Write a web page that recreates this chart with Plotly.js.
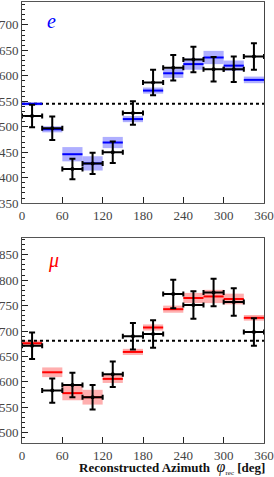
<!DOCTYPE html>
<html>
<head>
<meta charset="utf-8">
<script src="https://cdn.plot.ly/plotly-3.0.1.min.js"></script>
<style>html,body{margin:0;padding:0;background:#fff;}#chart{width:274px;height:477px;}</style>
</head>
<body>
<div id="chart"></div>
<script>
// Bin centres (deg)
const binCenters = [15, 45, 75, 105, 135, 165, 195, 225, 255, 285, 315, 345];
const binHalfWidth = [15, 15, 15, 15, 15, 15, 15, 15, 15, 15, 15, 15];

// Electron panel
const eData    = [521, 497, 417, 428, 450, 527, 587, 616, 632, 613, 613, 638];
const eDataErr = [22, 23, 20, 21, 21, 23, 25, 25, 25, 24, 25, 26];
const eMC      = [545, 495, 446, 428, 469, 515, 571, 605, 623, 636, 620, 592];
const eMCErr   = [3, 6, 14, 14, 11, 6, 6, 9, 11, 13, 10, 6.5];
const eMean    = 545;

// Muon panel
const mData    = [671, 583, 594, 570, 615, 690, 694, 773, 751, 776, 757, 698];
const mDataErr = [26, 24, 24, 24, 25, 26, 27, 28, 27, 27, 27, 27];
const mMC      = [676, 619, 578, 570, 606, 659, 707, 743, 765, 768, 763, 726];
const mMCErr   = [5.5, 9.5, 14, 14.5, 8, 6, 6, 7, 10, 13, 10.5, 5.5];
const mMean    = 681;

const xTicks = [0, 60, 120, 180, 240, 300, 360];

function bandTrace(mc, err, color, xa, ya) {
  return {
    type: 'bar', x: binCenters, y: err.map(e => 2 * e), base: mc.map((m, i) => m - err[i]),
    width: 30, marker: {color: color, line: {width: 0}}, xaxis: xa, yaxis: ya,
    hoverinfo: 'skip', showlegend: false
  };
}
function mcLine(mc, color, xa, ya) {
  return {
    type: 'scatter', mode: 'markers', x: binCenters, y: mc,
    marker: {size: 1, color: color, opacity: 0},
    error_x: {type: 'data', array: binHalfWidth, width: 0, thickness: 2, color: color},
    xaxis: xa, yaxis: ya, showlegend: false
  };
}
function dataTrace(d, err, xa, ya) {
  return {
    type: 'scatter', mode: 'markers', x: binCenters, y: d,
    marker: {size: 4, color: '#000'},
    error_x: {type: 'data', array: binHalfWidth, width: 2.5, thickness: 2, color: '#000'},
    error_y: {type: 'data', array: err, width: 3, thickness: 2, color: '#000'},
    xaxis: xa, yaxis: ya, showlegend: false
  };
}
function meanLine(v, xa, ya) {
  return {
    type: 'scatter', mode: 'lines', x: [0, 360], y: [v, v],
    line: {color: '#000', width: 2, dash: '3px,3px'}, xaxis: xa, yaxis: ya, showlegend: false
  };
}

const traces = [
  meanLine(eMean, 'x', 'y'),
  bandTrace(eMC, eMCErr, 'rgba(110,110,255,0.55)', 'x', 'y'),
  mcLine(eMC, '#0000ff', 'x', 'y'),
  dataTrace(eData, eDataErr, 'x', 'y'),
  meanLine(mMean, 'x2', 'y2'),
  bandTrace(mMC, mMCErr, 'rgba(255,110,110,0.55)', 'x2', 'y2'),
  mcLine(mMC, '#ff0000', 'x2', 'y2'),
  dataTrace(mData, mDataErr, 'x2', 'y2')
];

const serif = 'Liberation Serif, Times New Roman, serif';
const tickFont = {family: serif, size: 13, color: '#444'};
const xCommon = {
  range: [0, 360], tickvals: xTicks, ticks: 'inside', ticklen: 6, tickwidth: 1, tickcolor: '#222',
  showgrid: false, zeroline: false, showline: true, linecolor: '#555', linewidth: 1, mirror: true,
  tickfont: tickFont, automargin: false
};
const yCommon = {
  ticks: 'inside', ticklen: 6, tickwidth: 1, tickcolor: '#222', dtick: 50,
  minor: {dtick: 10, ticks: 'inside', ticklen: 3, tickcolor: '#222'},
  showgrid: false, zeroline: false, showline: true, linecolor: '#444', linewidth: 1, mirror: true,
  tickfont: tickFont, automargin: false
};

const layout = {
  width: 274, height: 477,
  margin: {l: 22, r: 10, t: 2, b: 34},
  paper_bgcolor: '#fff', plot_bgcolor: '#fff',
  barmode: 'overlay', showlegend: false,
  xaxis: Object.assign({}, xCommon, {anchor: 'y', domain: [0, 1]}),
  yaxis: Object.assign({}, yCommon, {anchor: 'x', domain: [0.544, 1], range: [350, 745]}),
  xaxis2: Object.assign({}, xCommon, {anchor: 'y2', domain: [0, 1]}),
  yaxis2: Object.assign({}, yCommon, {anchor: 'x2', domain: [0, 0.465], range: [480, 883]}),
  annotations: [
    {text: '<i>e</i>', xref: 'paper', yref: 'paper', x: 0.12, y: 0.958, xanchor: 'center', yanchor: 'middle', showarrow: false,
      font: {family: serif, size: 20, color: '#0000ff'}},
    {text: '<i>μ</i>', xref: 'paper', yref: 'paper', x: 0.132, y: 0.413, xanchor: 'center', yanchor: 'middle', showarrow: false,
      font: {family: serif, size: 20, color: '#ff0000'}},
    {text: '<b>Reconstructed Azimuth</b>  <i><span style="font-size:16px">φ</span></i><sub><span style="font-size:7px">rec</span></sub> <b>[deg]</b>',
      xref: 'paper', yref: 'paper', x: 0.62, y: -0.056, xanchor: 'center', yanchor: 'middle', showarrow: false,
      font: {family: serif, size: 13, color: '#111'}}
  ]
};

Plotly.newPlot('chart', traces, layout, {displayModeBar: false, staticPlot: true});
</script>
</body>
</html>
